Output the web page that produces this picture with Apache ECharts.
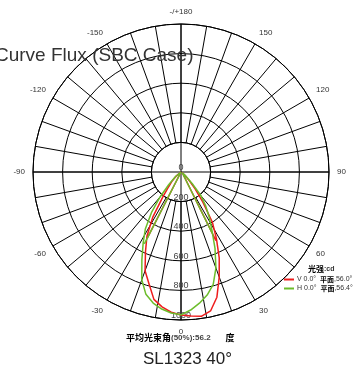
<!DOCTYPE html>
<html lang="zh">
<head>
  <meta charset="utf-8">
</head>
<body style="margin: 0">
  <div id="container" style="width: 359px; height: 376px"></div>

  <script type="text/javascript" src="https://cdn.jsdelivr.net/npm/echarts@6/dist/echarts.min.js"></script>
  <script type="text/javascript">
// angles in degrees (0 = straight down), drawn in this order
var angles = [-27, -90, -60, -50, -44, -40, -36, -32, -28, -24, -20, -16, -12, -8, -4, 0,
  4, 8, 12, 16, 20, 24, 28, 32, 36, 40, 44, 50, 60, 90, 27];
// intensity (cd)
var redValues = [500, 0, 10, 40, 90, 130, 210, 360, 490, 590, 710, 785, 880, 920, 950, 966,
  975, 985, 960, 880, 755, 635, 510, 400, 250, 150, 80, 30, 10, 0, 520];
var greenValues = [545, 0, 10, 50, 120, 220, 340, 455, 545, 650, 775, 860, 905, 935, 955, 965,
  935, 895, 850, 790, 690, 565, 445, 360, 285, 210, 110, 40, 10, 0, 470];

var seriesNames = ['V 0.0°', 'H 0.0°'];
var beamAngles = ['56.0°', '56.4°'];
var radiusTicks = [0, 200, 400, 600, 800, 1000];

var font = 'Liberation Sans, Arial, sans-serif';
var cjk = 'Noto Sans CJK SC, sans-serif';

function toPolar(values) {
  return values.map(function (v, i) {
    return [v, (angles[i] + 360) % 360];
  });
}

var myChart = echarts.init(document.getElementById('container'), null, { renderer: 'canvas' });

var option = {
  animation: false,
  textStyle: { fontFamily: font },
  title: [
    {
      text: 'Curve Flux (SBC Case)',
      left: -5, top: 46, padding: 0,
      textStyle: { fontSize: 19, fontWeight: 'normal', color: '#333', fontFamily: font }
    },
    {
      text: 'SL1323 40°',
      left: 143, top: 351, padding: 0,
      textStyle: { fontSize: 17, fontWeight: 'normal', color: '#222', fontFamily: font }
    },
    {
      text: '{a|平均光束角}{n|(50%):56.2}   {a|度}',
      left: 126, top: 329, padding: 0,
      textStyle: {
        rich: {
          a: { fontSize: 9, fontWeight: 'bold', color: '#000', fontFamily: cjk },
          n: { fontSize: 8, color: '#444', fontFamily: font }
        }
      }
    },
    {
      text: '{a|光强}{n|:cd}',
      left: 308, top: 265, padding: 0,
      textStyle: {
        rich: {
          a: { fontSize: 8, fontWeight: 'bold', color: '#000', fontFamily: cjk },
          n: { fontSize: 7, color: '#333', fontFamily: font }
        }
      }
    }
  ],
  legend: {
    orient: 'vertical',
    left: 284, top: 276,
    padding: 0,
    itemGap: 2,
    itemWidth: 10,
    itemHeight: 2,
    icon: 'rect',
    data: seriesNames,
    formatter: function (name) {
      return name + '  {b|平面},' + beamAngles[seriesNames.indexOf(name)];
    },
    textStyle: {
      fontSize: 7, color: '#333', fontFamily: font, padding: [0, 0, 0, -2],
      rich: { b: { fontSize: 7, fontWeight: 'bold', color: '#000', fontFamily: cjk } }
    }
  },
  polar: [
    { center: [181, 172], radius: [29.6, 148] },
    { center: [181, 172], radius: [0, 148] }
  ],
  angleAxis: [
    {
      polarIndex: 0, type: 'value', min: 0, max: 360, interval: 10,
      startAngle: 270, clockwise: false,
      axisLine: { lineStyle: { color: '#000', width: 1 } },
      axisTick: { show: false },
      axisLabel: {
        margin: 8, fontSize: 8, color: '#333',
        formatter: function (v) {
          if (v % 30 !== 0 || v === 360) return '';
          if (v === 180) return '-/+180';
          return v > 180 ? String(v - 360) : String(v);
        }
      },
      splitLine: { lineStyle: { color: '#000', width: 1 } }
    },
    {
      polarIndex: 1, type: 'value', min: 0, max: 360, interval: 90,
      startAngle: 270, clockwise: false,
      axisLine: { show: false },
      axisTick: { show: false },
      axisLabel: { show: false },
      splitLine: { show: true, lineStyle: { color: '#000', width: 1 } }
    }
  ],
  radiusAxis: [
    {
      polarIndex: 0, type: 'value', min: 200, max: 1000, interval: 200,
      axisLine: { show: false },
      axisTick: { show: false },
      axisLabel: { show: false },
      splitLine: { lineStyle: { color: '#000', width: 1 } }
    },
    {
      polarIndex: 1, type: 'value', min: 0, max: 1000, interval: 200,
      axisLine: { show: false },
      axisTick: { show: false },
      axisLabel: {
        margin: 0, align: 'center', verticalAlign: 'bottom',
        fontSize: 9, color: '#444',
        formatter: function (v) { return radiusTicks.indexOf(v) >= 0 ? String(v) : ''; }
      },
      splitLine: { show: false }
    }
  ],
  series: [
    {
      name: seriesNames[0], type: 'line', coordinateSystem: 'polar', polarIndex: 1,
      showSymbol: false, symbol: 'none',
      lineStyle: { color: '#ee1c1c', width: 1.5 },
      itemStyle: { color: '#ee1c1c' },
      data: toPolar(redValues), z: 3
    },
    {
      name: seriesNames[1], type: 'line', coordinateSystem: 'polar', polarIndex: 1,
      showSymbol: false, symbol: 'none',
      lineStyle: { color: '#6cbd2b', width: 1.5 },
      itemStyle: { color: '#6cbd2b' },
      data: toPolar(greenValues), z: 4
    }
  ]
};

myChart.setOption(option);
  </script>
</body>
</html>
